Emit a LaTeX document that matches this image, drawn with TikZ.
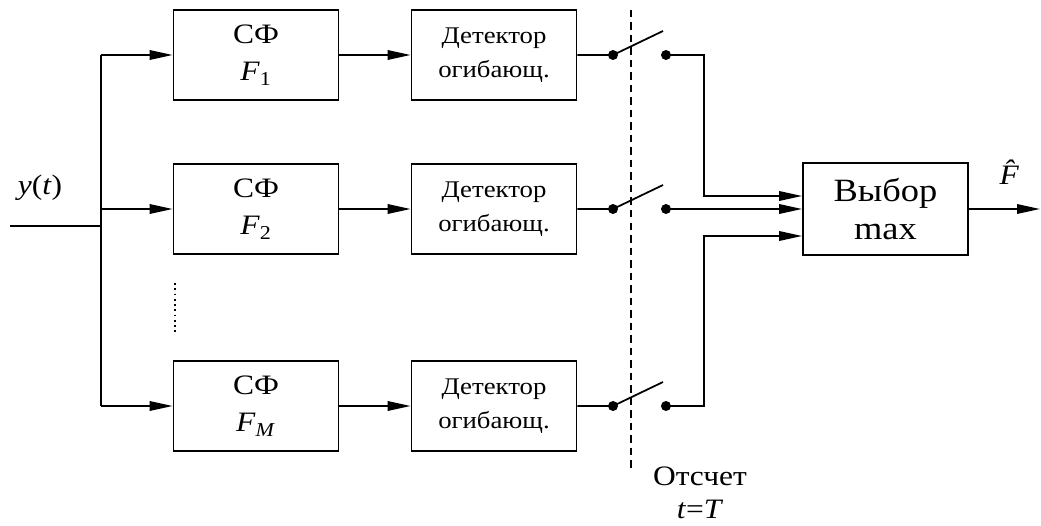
\documentclass[tikz,border=0pt]{standalone}
\usepackage{fontspec}
\setmainfont[FakeStretch=1.12]{Liberation Serif}
\usetikzlibrary{arrows.meta}

\begin{document}
\begin{tikzpicture}
    \tikzset{block/.style={draw,line width=1pt,minimum width=3.3cm,minimum height=1.8cm,align=center,font=\fontsize{16}{21.5}\selectfont},
             det block/.style={block,font=\fontsize{13.6}{19.5}\selectfont},
             label text/.style={font=\fontsize{16}{18.5}\selectfont,align=center},
             wire/.style={line width=1pt},
             signal/.style={wire,-{Triangle[length=0.46cm,width=0.19cm]}}}
    \useasboundingbox (0,0) rectangle (20.82,10.5);

    % filters and detectors
    \node [block] (SF1) at (5.12,9.4) {СФ\\\textit{F}\textsubscript{1}};
    \node [block] (SF2) at (5.12,6.32) {СФ\\\textit{F}\textsubscript{2}};
    \node [block] (SFM) at (5.12,2.38) {СФ\\\textit{F}\textsubscript{\textit{M}}};
    \node [det block] (Det1) at (9.88,9.4) {Детектор\\огибающ.};
    \node [det block] (Det2) at (9.88,6.32) {Детектор\\огибающ.};
    \node [det block] (DetM) at (9.88,2.38) {Детектор\\огибающ.};
    \node [block,minimum height=1.84cm,font=\fontsize{18.5}{21.6}\selectfont] (Max) at (17.71,6.32) {Выбор\\max};

    % input
    \coordinate (In) at (0.2,5.98);
    \coordinate (Split-In) at (2.02,5.98);
    \coordinate (Split-1) at (2.02,9.4);
    \coordinate (Split-2) at (2.02,6.32);
    \coordinate (Split-M) at (2.02,2.38);
    \node [label text] (y-label) at (0.8,6.75) {\textit{y}(\textit{t})};
    \draw [wire] (In) -- (Split-In);
    \draw [wire] (Split-1) -- (Split-M);
    \draw [signal] (Split-1) -- (SF1);
    \draw [signal] (Split-2) -- (SF2);
    \draw [signal] (Split-M) -- (SFM);
    \draw [line width=1pt,dotted] (3.5,4.84) -- (3.5,3.8);

    \draw [signal] (SF1) -- (Det1);
    \draw [signal] (SF2) -- (Det2);
    \draw [signal] (SFM) -- (DetM);

    % sampling switches
    \coordinate (S1-in) at (12.26,9.4);
    \coordinate (S1-out) at (13.32,9.4);
    \coordinate (S2-in) at (12.26,6.32);
    \coordinate (S2-out) at (13.32,6.32);
    \coordinate (SM-in) at (12.26,2.38);
    \coordinate (SM-out) at (13.32,2.38);
    \draw [wire] (Det1) -- (S1-in) -- ++(1,0.48);
    \draw [wire] (Det2) -- (S2-in) -- ++(1,0.48);
    \draw [wire] (DetM) -- (SM-in) -- ++(1,0.48);
    \foreach \s in {S1-in,S1-out,S2-in,S2-out,SM-in,SM-out}
        \fill (\s) circle (0.1);

    \draw [line width=0.8pt,dash pattern=on 0.15cm off 0.1cm] (12.62,10.3) -- (12.62,1.1);
    \node [label text,inner sep=0pt] (Sample) at (14.0,0.64) {Отсчет\\\textit{t}=\textit{T}};

    % to the max selector
    \coordinate (Max-in1) at ([yshift=0.26cm]Max.west);
    \coordinate (Max-inM) at ([yshift=-0.54cm]Max.west);
    \draw [signal] (S1-out) -| (14.08,6.58) -- (Max-in1);
    \draw [signal] (S2-out) -- (Max.west);
    \draw [signal] (SM-out) -| (14.08,5.78) -- (Max-inM);

    \coordinate (Out) at (20.8,6.32);
    \draw [signal] (Max) -- (Out);
    \node [label text] (F-hat) at (20.3,7.05) {\textit{\^F}};
\end{tikzpicture}
\end{document}
